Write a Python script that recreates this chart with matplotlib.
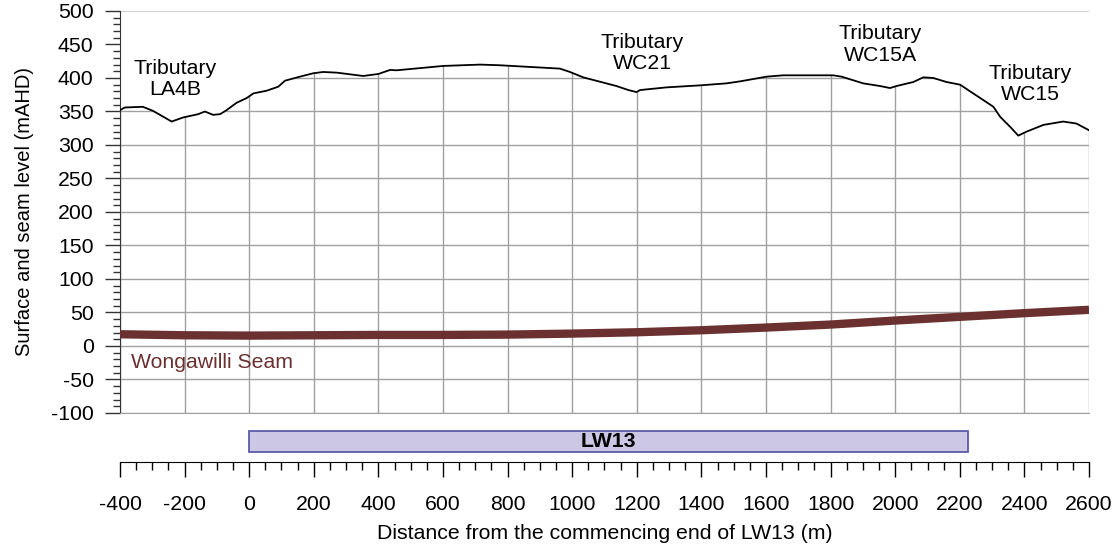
import matplotlib.pyplot as plt
from matplotlib.ticker import MultipleLocator

plt.rcParams['font.family'] = ['Liberation Sans', 'DejaVu Sans']
plt.rcParams['axes.unicode_minus'] = False

# surface profile along the centreline (distance m, level mAHD)
surf_x = [-400, -385, -329, -298, -240, -205, -158, -137, -112, -90, -70, -39, -8, 13,
          54, 90, 111, 157, 198, 229, 271, 353, 400, 436, 457, 601, 715, 776, 962, 993,
          1034, 1137, 1174, 1199, 1210, 1292, 1396, 1478, 1520, 1602, 1653, 1705, 1808,
          1834, 1901, 1953, 1984, 2004, 2056, 2087, 2118, 2159, 2201, 2232, 2273, 2304,
          2325, 2356, 2381, 2407, 2459, 2520, 2561, 2600]
surf_z = [352, 356, 357, 351, 335, 341, 346, 350, 345, 346, 352, 363, 370, 377,
          381, 387, 396, 402, 407, 409, 408, 403, 406, 412, 411.5, 418, 420, 419, 414, 409,
          401, 388, 382, 379, 382, 386, 389, 392, 395, 402, 404, 404, 404,
          402, 392, 388, 385, 388, 394, 401, 400, 394, 390, 380, 367, 357,
          342, 327, 314, 320, 330, 335, 332, 322]

# Wongawilli seam floor
seam_x = [-400, -200, 0, 200, 400, 600, 800, 1000, 1200, 1400, 1600, 1800, 2000, 2200, 2400, 2600]
seam_z = [17.5, 16, 15.5, 16, 16.5, 16.5, 17, 18.5, 20.5, 23.5, 27.5, 32, 38, 43.5, 49, 54]

# longwall panel extent
panel_name = 'LW13'
panel_start, panel_end = 0, 2225

# creek / tributary labels: (text, x, y)
tribs = [('Tributary\nLA4B', -228, 398),
         ('Tributary\nWC21', 1216, 437),
         ('Tributary\nWC15A', 1953, 450),
         ('Tributary\nWC15', 2417, 391)]

grid_c = '#a0a0a0'
seam_c = '#6b3030'
fs = 15.3

fig = plt.figure(figsize=(11.15, 5.47), dpi=100)
ax = fig.add_axes([0.1076, 0.2450, 0.8691, 0.7349])
ax2 = fig.add_axes([0.1076, 0.1554, 0.8691, 0.0676])

# --- section view ---
ax.set_xlim(-400, 2600)
ax.set_ylim(-100, 500)
ax.set_xticks(range(-400, 2601, 200))
ax.yaxis.set_major_locator(MultipleLocator(50))
ax.yaxis.set_minor_locator(MultipleLocator(10))
ax.set_axisbelow(True)
ax.grid(True, which='major', color=grid_c, linewidth=1.0)
ax.tick_params(axis='x', which='both', bottom=False, labelbottom=False)
ax.tick_params(axis='y', which='major', length=11, width=1.0, color='#333333',
               labelsize=fs, pad=8)
ax.tick_params(axis='y', which='minor', length=5, width=1.0, color='#333333')
for s in ['top', 'right']:
    ax.spines[s].set_visible(False)
ax.spines['bottom'].set_color(grid_c)
ax.spines['left'].set_color('#333333')

# blank out the grid above ground level
ax.fill_between(surf_x, surf_z, 500, color='white', zorder=1, linewidth=0)
ax.plot(surf_x, surf_z, color='black', linewidth=1.3, zorder=3)
ax.plot(seam_x, seam_z, color=seam_c, linewidth=6, solid_capstyle='butt', zorder=3)

for txt, tx, ty in tribs:
    ax.text(tx, ty, txt, ha='center', va='center', fontsize=fs, linespacing=1.15, zorder=4)
ax.text(-367, -24, 'Wongawilli Seam', color=seam_c, fontsize=fs, ha='left', va='center', zorder=4)

ax.set_ylabel('Surface and seam level (mAHD)', fontsize=14.5, labelpad=12)

# --- panel strip with distance axis ---
ax2.set_xlim(-400, 2600)
ax2.set_ylim(0, 1)
ax2.barh(0.55, panel_end - panel_start, left=panel_start, height=0.57,
         color='#cbc7e4', edgecolor='#5b5ba8', linewidth=1.3)
ax2.text((panel_start + panel_end) / 2, 0.55, panel_name, ha='center', va='center',
         fontsize=fs, fontweight='bold')
ax2.set_xticks(range(-400, 2601, 200))
ax2.xaxis.set_minor_locator(MultipleLocator(50))
ax2.tick_params(axis='x', which='major', length=11, width=1.0, labelsize=fs, pad=13)
ax2.tick_params(axis='x', which='minor', length=6, width=1.0)
ax2.set_yticks([])
for s in ['top', 'right', 'left']:
    ax2.spines[s].set_visible(False)
ax2.set_xlabel('Distance from the commencing end of LW13 (m)', fontsize=fs, labelpad=7)

fig.savefig('out.png', dpi=100)
